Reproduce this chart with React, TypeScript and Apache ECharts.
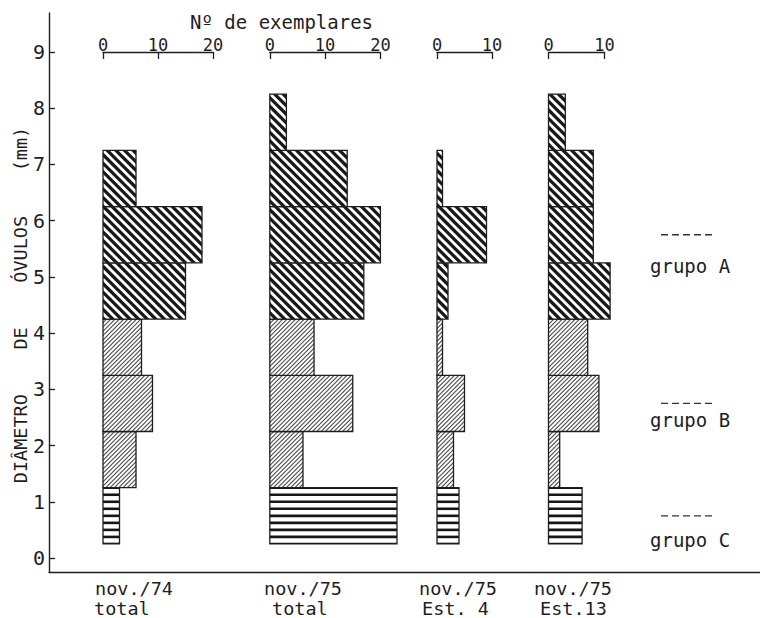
import { useEffect, useRef } from "react";
import * as echarts from "echarts";

// Diameter classes (mm): each bar covers [start, start + 1)
const binStarts = [0.25, 1.25, 2.25, 3.25, 4.25, 5.25, 6.25, 7.25];
// 0 = grupo A, 1 = grupo B, 2 = grupo C
const binGroups = [2, 1, 1, 1, 0, 0, 0, 0];

// Número de exemplares per diameter class
const nov74Total = [3, 6, 9, 7, 15, 18, 6, 0];
const nov75Total = [23, 6, 15, 8, 17, 20, 14, 3];
const nov75Est4 = [4, 3, 5, 1, 2, 9, 1, 0];
const nov75Est13 = [6, 2, 9, 7, 11, 8, 8, 3];

const panelCounts = [nov74Total, nov75Total, nov75Est4, nov75Est13];
const panelScaleMax = [20, 20, 10, 10];
const panelLabels = [
  ["nov./74", "total"],
  ["nov./75", "total"],
  ["nov./75", "Est. 4"],
  ["nov./75", "Est.13"],
];

const groupNames = ["grupo A", "grupo B", "grupo C"];
const groupModes = [5.75, 2.75, 0.75];

const yTitle = "DIÂMETRO    DE    ÓVULOS    (mm)";
const xTitle = "Nº de exemplares";

// ---- layout / style ----
const MONO = '"DejaVu Sans Mono", monospace';
const INK = "#1e1e1e";
const PLOT_TOP = 52;
const PLOT_BOTTOM = 60;
const PANEL_LEFT = [103, 269.8, 437, 548.5];
const PANEL_WIDTH = [110, 110.6, 55, 56];
const LABEL_X1 = [95, 264, 419, 534];
const LABEL_X2 = [94, 272, 422, 540];
const GROUP_LABEL_DY = [31.5, 17, 24.5];

type Pt = number[];
const HATCH = [
  { slope: 1, period: 8.6, width: 4.6, color: "#181818" }, // "\\\\" heavy
  { slope: -1, period: 4.3, width: 1.5, color: "#474747" }, // "////" fine
  { slope: 0, period: 0, width: 2.6, color: "#161616" }, // horizontal
];

function clipHalf(poly: Pt[], fn: (p: Pt) => number): Pt[] {
  const out: Pt[] = [];
  for (let i = 0; i < poly.length; i++) {
    const a = poly[i];
    const b = poly[(i + 1) % poly.length];
    const fa = fn(a);
    const fb = fn(b);
    if (fa >= 0) out.push(a);
    if (fa >= 0 !== fb >= 0) {
      const t = fa / (fa - fb);
      out.push([a[0] + t * (b[0] - a[0]), a[1] + t * (b[1] - a[1])]);
    }
  }
  return out;
}

function hatchPolys(x0: number, y0: number, x1: number, y1: number, g: number): Pt[][] {
  const h = HATCH[g];
  const rect: Pt[] = [
    [x0, y0],
    [x1, y0],
    [x1, y1],
    [x0, y1],
  ];
  const f = (p: Pt) => p[1] - h.slope * p[0];
  const vals = rect.map(f);
  const fmin = Math.min(...vals);
  const fmax = Math.max(...vals);
  const period = h.slope === 0 ? (y1 - y0) / 8 : h.period;
  const base = h.slope === 0 ? y0 : 0;
  const out: Pt[][] = [];
  const k0 = Math.floor((fmin - base) / period) - 1;
  const k1 = Math.ceil((fmax - base) / period) + 1;
  for (let k = k0; k <= k1; k++) {
    const c = base + k * period;
    let poly = clipHalf(rect, (p) => f(p) - (c - h.width / 2));
    poly = clipHalf(poly, (p) => c + h.width / 2 - f(p));
    if (poly.length >= 3) out.push(poly);
  }
  return out;
}

function renderBar(_params: any, api: any) {
  const lo = api.value(0);
  const hi = api.value(1);
  const n = api.value(2);
  const g = api.value(3);
  const tl = api.coord([0, hi]);
  const br = api.coord([n, lo]);
  const x0 = tl[0];
  const y0 = tl[1];
  const x1 = br[0];
  const y1 = br[1];
  const children: any[] = [
    { type: "rect", shape: { x: x0, y: y0, width: x1 - x0, height: y1 - y0 }, style: { fill: "#fff" } },
  ];
  for (const poly of hatchPolys(x0, y0, x1, y1, g)) {
    children.push({ type: "polygon", shape: { points: poly }, style: { fill: HATCH[g].color } });
  }
  children.push({
    type: "rect",
    shape: { x: x0, y: y0, width: x1 - x0, height: y1 - y0 },
    style: { fill: "none", stroke: INK, lineWidth: 1.3 },
  });
  return { type: "group", children };
}

function renderGroup(_params: any, api: any) {
  const mode = api.value(0);
  const i = api.value(1);
  const a = api.coord([0, mode]);
  const b = api.coord([1, mode]);
  return {
    type: "group",
    children: [
      {
        type: "line",
        shape: { x1: a[0], y1: a[1], x2: b[0], y2: b[1] },
        style: { stroke: "#333", lineWidth: 1.4, lineDash: [7, 4] },
      },
      {
        type: "text",
        x: a[0] - 11,
        y: a[1] + GROUP_LABEL_DY[i],
        style: {
          text: groupNames[i],
          fontFamily: MONO,
          fontSize: 19,
          fill: INK,
          align: "left",
          verticalAlign: "middle",
        },
      },
    ],
  };
}

export default function App() {
  const ref = useRef<HTMLDivElement>(null);

  useEffect(() => {
    if (!ref.current) return;
    const chart = echarts.init(ref.current, undefined, { renderer: "svg" });

    const hidden = { show: false };
    const grids: any[] = [
      { left: 49, right: 0, top: 13, bottom: 46 }, // frame
      { left: 49, width: 10, top: PLOT_TOP, bottom: PLOT_BOTTOM }, // diameter ticks
      ...PANEL_LEFT.map((l, i) => ({ left: l, width: PANEL_WIDTH[i], top: PLOT_TOP, bottom: PLOT_BOTTOM })),
      { left: 661, width: 51, top: PLOT_TOP, bottom: PLOT_BOTTOM }, // group markers
    ];

    const xAxis: any[] = [
      {
        gridIndex: 0,
        type: "value",
        min: 0,
        max: 1,
        position: "bottom",
        axisLine: { show: true, onZero: false, lineStyle: { color: INK, width: 1.4 } },
        axisTick: hidden,
        axisLabel: hidden,
        splitLine: hidden,
      },
      { gridIndex: 1, type: "value", min: 0, max: 1, show: false },
      ...panelScaleMax.map((m, i) => ({
        gridIndex: i + 2,
        type: "value",
        min: 0,
        max: m,
        interval: 10,
        position: "top",
        axisLine: { show: true, onZero: false, lineStyle: { color: INK, width: 1.3 } },
        axisTick: { show: true, inside: true, length: 7, lineStyle: { color: INK, width: 1.3 } },
        axisLabel: {
          margin: -1,
          fontFamily: MONO,
          fontSize: 17,
          lineHeight: 17,
          color: INK,
          showMinLabel: true,
          showMaxLabel: true,
        },
        splitLine: hidden,
      })),
      { gridIndex: 6, type: "value", min: 0, max: 1, show: false },
    ];

    const yAxis: any[] = [
      {
        gridIndex: 0,
        type: "value",
        min: 0,
        max: 1,
        position: "left",
        axisLine: { show: true, onZero: false, lineStyle: { color: INK, width: 1.4 } },
        axisTick: hidden,
        axisLabel: hidden,
        splitLine: hidden,
      },
      {
        gridIndex: 1,
        type: "value",
        min: 0,
        max: 9,
        interval: 1,
        position: "left",
        axisLine: { show: false, onZero: false },
        axisTick: { show: true, inside: true, length: 6, lineStyle: { color: INK, width: 1.3 } },
        axisLabel: { margin: 4, fontFamily: MONO, fontSize: 20, color: INK, showMinLabel: true, showMaxLabel: true },
        splitLine: hidden,
      },
      ...panelScaleMax.map((_m, i) => ({ gridIndex: i + 2, type: "value", min: 0, max: 9, show: false })),
      { gridIndex: 6, type: "value", min: 0, max: 9, show: false },
    ];

    const series: any[] = panelCounts.map((counts, p) => ({
      type: "custom",
      xAxisIndex: p + 2,
      yAxisIndex: p + 2,
      clip: false,
      renderItem: renderBar,
      data: binStarts
        .map((s, i) => [s, s + 1, counts[i], binGroups[i]])
        .filter((d) => d[2] > 0),
    }));
    series.push({
      type: "custom",
      xAxisIndex: 6,
      yAxisIndex: 6,
      clip: false,
      renderItem: renderGroup,
      data: groupModes.map((m, i) => [m, i]),
    });

    const graphic: any[] = [
      {
        type: "text",
        x: 190,
        y: 22,
        style: {
          text: xTitle,
          fontFamily: MONO,
          fontSize: 19,
          lineHeight: 19,
          fill: INK,
          align: "left",
          verticalAlign: "middle",
        },
      },
      {
        type: "text",
        x: 20,
        y: 305,
        rotation: Math.PI / 2,
        style: { text: yTitle, fontFamily: MONO, fontSize: 18.5, fill: INK, align: "center", verticalAlign: "middle" },
      },
    ];
    panelLabels.forEach((lines, p) => {
      graphic.push({
        type: "text",
        x: LABEL_X1[p],
        y: 588.5,
        style: { text: lines[0], fontFamily: MONO, fontSize: 18.5, fill: INK, align: "left", verticalAlign: "middle" },
      });
      graphic.push({
        type: "text",
        x: LABEL_X2[p],
        y: 608.5,
        style: { text: lines[1], fontFamily: MONO, fontSize: 18.5, fill: INK, align: "left", verticalAlign: "middle" },
      });
    });

    chart.setOption({
      animation: false,
      backgroundColor: "#fff",
      grid: grids,
      xAxis,
      yAxis,
      series,
      graphic,
    });

    return () => chart.dispose();
  }, []);

  return <div ref={ref} style={{ position: "fixed", left: 0, top: 0, width: 760, height: 618 }} />;
}
